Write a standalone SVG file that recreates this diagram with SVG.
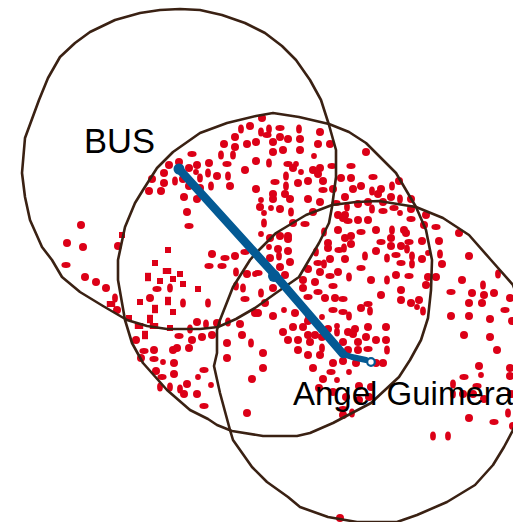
<svg xmlns="http://www.w3.org/2000/svg" width="513" height="522" viewBox="0 0 513 522">
<style>
.r{fill:none;stroke:#3a2113;stroke-width:2.6;stroke-linejoin:round}
.t{font-family:"Liberation Sans",Arial,sans-serif;font-size:33px;fill:#000}
#dots use{fill:#dc0017}
</style>
<defs>
<circle id="c" r="4"/>
<ellipse id="w" rx="4.6" ry="2.9"/>
<ellipse id="n" rx="2.9" ry="4.6"/>
<circle id="s" r="2.9"/>
<rect id="q" x="-3" y="-3" width="6" height="6"/>
<rect id="h" x="-3" y="-4.2" width="6" height="8.4"/>
<rect id="v" x="-4.2" y="-3" width="8.4" height="6"/>
</defs>
<rect width="513" height="522" fill="#fff"/>
<g id="dots">
<use href="#c" x="250" y="126"/><use href="#n" x="241" y="129"/><use href="#c" x="235" y="137"/><use href="#c" x="224" y="144"/><use href="#c" x="235" y="147"/><use href="#c" x="247" y="144"/><use href="#c" x="256" y="142"/><use href="#n" x="221" y="155"/><use href="#n" x="233" y="155"/><use href="#w" x="192" y="154"/><use href="#c" x="169" y="165"/><use href="#c" x="179" y="162"/><use href="#c" x="197" y="165"/><use href="#c" x="189" y="168"/><use href="#c" x="209" y="163"/><use href="#w" x="227" y="164"/><use href="#c" x="256" y="161"/><use href="#c" x="164" y="173"/><use href="#s" x="196" y="172"/><use href="#n" x="208" y="173"/><use href="#c" x="217" y="176"/><use href="#n" x="228" y="176"/><use href="#c" x="245" y="170"/><use href="#n" x="200" y="178"/><use href="#c" x="152" y="179"/><use href="#n" x="175" y="181"/><use href="#c" x="164" y="183"/><use href="#c" x="183" y="179"/><use href="#n" x="211" y="186"/><use href="#c" x="230" y="186"/><use href="#c" x="189" y="186"/><use href="#c" x="200" y="188"/><use href="#c" x="149" y="191"/><use href="#c" x="161" y="191"/><use href="#c" x="184" y="197"/><use href="#c" x="197" y="199"/><use href="#c" x="187" y="212"/><use href="#w" x="189" y="226"/><use href="#c" x="212" y="254"/><use href="#w" x="225" y="258"/><use href="#c" x="235" y="256"/><use href="#w" x="245" y="252"/>
<use href="#q" x="168" y="250"/><use href="#q" x="122" y="235"/><use href="#c" x="118" y="246"/><use href="#c" x="81" y="225"/><use href="#c" x="67" y="243"/><use href="#c" x="83" y="247"/>
<use href="#c" x="262" y="118"/><use href="#n" x="261" y="132"/><use href="#n" x="269" y="129"/><use href="#w" x="280" y="128"/><use href="#n" x="299" y="129"/><use href="#c" x="320" y="132"/><use href="#w" x="267" y="135"/><use href="#c" x="280" y="137"/><use href="#c" x="288" y="139"/><use href="#c" x="300" y="139"/><use href="#c" x="273" y="142"/><use href="#c" x="318" y="144"/><use href="#c" x="330" y="144"/><use href="#c" x="273" y="152"/><use href="#c" x="283" y="150"/><use href="#c" x="300" y="150"/><use href="#s" x="314" y="156"/><use href="#c" x="366" y="152"/><use href="#n" x="269" y="163"/><use href="#w" x="288" y="164"/><use href="#s" x="296" y="164"/><use href="#c" x="293" y="168"/><use href="#c" x="320" y="168"/><use href="#w" x="332" y="166"/><use href="#w" x="351" y="166"/><use href="#s" x="301" y="172"/><use href="#c" x="313" y="170"/><use href="#c" x="318" y="174"/><use href="#n" x="286" y="176"/><use href="#c" x="341" y="178"/><use href="#c" x="351" y="178"/><use href="#w" x="373" y="177"/><use href="#c" x="399" y="181"/><use href="#w" x="275" y="182"/><use href="#c" x="308" y="181"/><use href="#c" x="298" y="183"/><use href="#c" x="323" y="181"/><use href="#n" x="286" y="186"/><use href="#c" x="256" y="189"/><use href="#c" x="361" y="186"/><use href="#c" x="353" y="189"/><use href="#c" x="333" y="189"/><use href="#w" x="323" y="190"/><use href="#c" x="381" y="189"/><use href="#n" x="392" y="186"/><use href="#n" x="372" y="191"/><use href="#c" x="378" y="194"/><use href="#c" x="273" y="194"/><use href="#c" x="285" y="194"/><use href="#c" x="345" y="197"/><use href="#c" x="391" y="197"/><use href="#c" x="273" y="199"/><use href="#c" x="290" y="199"/><use href="#c" x="308" y="199"/><use href="#c" x="320" y="202"/><use href="#s" x="261" y="200"/><use href="#n" x="400" y="199"/><use href="#c" x="411" y="199"/><use href="#w" x="336" y="203"/><use href="#c" x="368" y="202"/><use href="#c" x="383" y="202"/><use href="#c" x="358" y="204"/><use href="#c" x="260" y="207"/><use href="#s" x="271" y="208"/><use href="#c" x="280" y="209"/><use href="#n" x="347" y="207"/><use href="#n" x="372" y="209"/><use href="#w" x="394" y="208"/><use href="#c" x="411" y="209"/><use href="#w" x="383" y="211"/><use href="#s" x="400" y="213"/><use href="#s" x="264" y="213"/><use href="#n" x="291" y="212"/><use href="#c" x="313" y="212"/><use href="#c" x="338" y="215"/><use href="#c" x="345" y="215"/><use href="#c" x="426" y="215"/><use href="#w" x="411" y="219"/><use href="#c" x="343" y="218"/><use href="#w" x="348" y="221"/><use href="#c" x="358" y="220"/><use href="#c" x="368" y="220"/><use href="#n" x="264" y="223"/><use href="#c" x="293" y="223"/><use href="#w" x="305" y="224"/><use href="#c" x="424" y="225"/><use href="#w" x="436" y="227"/><use href="#c" x="338" y="230"/><use href="#c" x="376" y="230"/><use href="#n" x="392" y="230"/><use href="#c" x="404" y="230"/><use href="#c" x="406" y="233"/><use href="#w" x="361" y="232"/><use href="#n" x="324" y="232"/><use href="#c" x="459" y="233"/><use href="#s" x="261" y="234"/><use href="#c" x="280" y="236"/><use href="#c" x="288" y="236"/><use href="#c" x="270" y="238"/><use href="#c" x="288" y="239"/><use href="#c" x="345" y="238"/><use href="#c" x="351" y="236"/><use href="#c" x="391" y="238"/><use href="#c" x="422" y="241"/><use href="#c" x="439" y="241"/><use href="#w" x="381" y="242"/><use href="#w" x="409" y="242"/><use href="#c" x="328" y="243"/><use href="#c" x="351" y="244"/><use href="#s" x="269" y="247"/><use href="#c" x="328" y="248"/><use href="#c" x="278" y="249"/><use href="#n" x="344" y="248"/><use href="#w" x="339" y="250"/><use href="#c" x="391" y="246"/><use href="#c" x="401" y="246"/><use href="#n" x="407" y="249"/><use href="#c" x="288" y="251"/><use href="#n" x="316" y="252"/><use href="#c" x="376" y="251"/><use href="#s" x="428" y="253"/><use href="#n" x="440" y="254"/><use href="#w" x="396" y="255"/><use href="#c" x="469" y="256"/><use href="#c" x="270" y="258"/><use href="#n" x="279" y="256"/><use href="#n" x="365" y="256"/><use href="#n" x="387" y="258"/><use href="#n" x="412" y="256"/><use href="#c" x="330" y="259"/><use href="#c" x="345" y="259"/><use href="#c" x="422" y="259"/>
<use href="#q" x="155" y="263"/><use href="#h" x="148" y="277"/><use href="#v" x="167" y="271"/><use href="#q" x="173" y="279"/><use href="#q" x="180" y="274"/><use href="#q" x="160" y="281"/><use href="#q" x="183" y="284"/><use href="#w" x="157" y="289"/><use href="#n" x="170" y="288"/><use href="#q" x="198" y="289"/><use href="#c" x="150" y="298"/><use href="#q" x="140" y="302"/><use href="#h" x="168" y="301"/><use href="#h" x="155" y="309"/><use href="#q" x="173" y="312"/><use href="#n" x="183" y="303"/><use href="#n" x="208" y="303"/><use href="#h" x="150" y="319"/><use href="#q" x="129" y="318"/><use href="#v" x="139" y="326"/><use href="#v" x="154" y="326"/><use href="#q" x="170" y="328"/><use href="#h" x="145" y="335"/>
<use href="#w" x="66" y="265"/><use href="#c" x="85" y="277"/><use href="#c" x="96" y="282"/><use href="#c" x="106" y="288"/><use href="#n" x="115" y="298"/><use href="#v" x="111" y="304"/><use href="#c" x="117" y="310"/>
<use href="#w" x="209" y="266"/><use href="#w" x="222" y="266"/><use href="#n" x="236" y="272"/><use href="#c" x="247" y="274"/><use href="#s" x="255" y="274"/><use href="#n" x="236" y="286"/><use href="#n" x="243" y="288"/><use href="#w" x="245" y="299"/><use href="#c" x="197" y="322"/><use href="#n" x="206" y="324"/><use href="#c" x="217" y="323"/><use href="#n" x="228" y="322"/><use href="#c" x="240" y="324"/><use href="#c" x="255" y="313"/><use href="#n" x="190" y="329"/><use href="#w" x="179" y="336"/><use href="#c" x="192" y="340"/><use href="#c" x="202" y="337"/><use href="#c" x="212" y="335"/><use href="#c" x="242" y="335"/><use href="#c" x="227" y="343"/><use href="#n" x="251" y="343"/><use href="#c" x="136" y="340"/><use href="#c" x="189" y="348"/><use href="#c" x="177" y="348"/><use href="#c" x="173" y="350"/><use href="#c" x="154" y="350"/><use href="#w" x="144" y="351"/><use href="#c" x="141" y="358"/><use href="#w" x="154" y="359"/><use href="#s" x="163" y="362"/><use href="#c" x="174" y="363"/><use href="#c" x="227" y="358"/><use href="#w" x="204" y="370"/><use href="#c" x="156" y="371"/><use href="#c" x="174" y="374"/><use href="#w" x="162" y="377"/><use href="#s" x="198" y="377"/><use href="#c" x="252" y="379"/><use href="#c" x="187" y="384"/><use href="#s" x="211" y="385"/><use href="#n" x="160" y="387"/><use href="#n" x="170" y="387"/><use href="#n" x="180" y="389"/><use href="#c" x="184" y="394"/><use href="#c" x="197" y="394"/><use href="#w" x="204" y="406"/><use href="#c" x="247" y="413"/>
<use href="#c" x="290" y="262"/><use href="#c" x="280" y="267"/><use href="#c" x="308" y="269"/><use href="#w" x="318" y="263"/><use href="#n" x="324" y="264"/><use href="#c" x="320" y="272"/><use href="#c" x="338" y="272"/><use href="#w" x="330" y="276"/><use href="#w" x="361" y="268"/><use href="#n" x="349" y="277"/><use href="#c" x="371" y="280"/><use href="#n" x="387" y="280"/><use href="#c" x="396" y="275"/><use href="#w" x="409" y="276"/><use href="#w" x="401" y="263"/><use href="#n" x="412" y="264"/><use href="#c" x="442" y="264"/><use href="#c" x="428" y="277"/><use href="#c" x="436" y="277"/><use href="#c" x="462" y="280"/><use href="#n" x="498" y="274"/><use href="#w" x="258" y="273"/><use href="#c" x="285" y="275"/><use href="#c" x="303" y="280"/><use href="#c" x="315" y="282"/><use href="#c" x="426" y="285"/><use href="#c" x="273" y="288"/><use href="#c" x="303" y="288"/><use href="#w" x="333" y="286"/><use href="#c" x="401" y="290"/><use href="#w" x="451" y="292"/><use href="#n" x="483" y="285"/><use href="#c" x="472" y="293"/><use href="#c" x="484" y="295"/><use href="#c" x="494" y="293"/><use href="#n" x="261" y="293"/><use href="#w" x="318" y="292"/><use href="#w" x="308" y="297"/><use href="#c" x="325" y="298"/><use href="#c" x="335" y="298"/><use href="#w" x="343" y="299"/><use href="#c" x="381" y="295"/><use href="#c" x="510" y="298"/><use href="#c" x="401" y="300"/><use href="#c" x="411" y="303"/><use href="#c" x="419" y="300"/><use href="#c" x="469" y="303"/><use href="#c" x="482" y="303"/><use href="#c" x="265" y="303"/><use href="#w" x="368" y="304"/><use href="#s" x="417" y="307"/><use href="#c" x="361" y="308"/><use href="#n" x="370" y="311"/><use href="#w" x="333" y="310"/><use href="#w" x="343" y="312"/><use href="#n" x="423" y="311"/><use href="#w" x="505" y="310"/><use href="#s" x="284" y="310"/><use href="#c" x="258" y="313"/><use href="#c" x="273" y="316"/><use href="#c" x="295" y="313"/><use href="#c" x="309" y="316"/><use href="#s" x="322" y="317"/><use href="#n" x="349" y="316"/><use href="#c" x="451" y="316"/><use href="#c" x="469" y="316"/><use href="#c" x="490" y="319"/><use href="#c" x="512" y="321"/><use href="#c" x="308" y="321"/><use href="#c" x="293" y="327"/><use href="#c" x="303" y="327"/><use href="#s" x="337" y="326"/><use href="#c" x="368" y="327"/><use href="#c" x="386" y="327"/><use href="#c" x="283" y="332"/><use href="#c" x="328" y="329"/><use href="#n" x="337" y="332"/><use href="#c" x="348" y="332"/><use href="#c" x="355" y="329"/><use href="#c" x="353" y="334"/><use href="#c" x="308" y="335"/><use href="#c" x="315" y="335"/><use href="#c" x="464" y="335"/><use href="#c" x="288" y="340"/><use href="#c" x="298" y="340"/><use href="#c" x="322" y="337"/><use href="#c" x="366" y="337"/><use href="#c" x="376" y="340"/><use href="#c" x="386" y="340"/><use href="#c" x="490" y="337"/><use href="#c" x="310" y="342"/><use href="#c" x="343" y="342"/><use href="#c" x="358" y="342"/><use href="#n" x="322" y="348"/><use href="#c" x="298" y="350"/><use href="#c" x="348" y="350"/><use href="#c" x="358" y="350"/><use href="#w" x="368" y="349"/><use href="#n" x="387" y="350"/><use href="#c" x="497" y="350"/><use href="#c" x="263" y="353"/><use href="#c" x="308" y="355"/><use href="#c" x="320" y="355"/><use href="#c" x="356" y="363"/><use href="#c" x="333" y="363"/><use href="#c" x="343" y="361"/><use href="#c" x="376" y="363"/><use href="#c" x="383" y="363"/><use href="#c" x="479" y="366"/><use href="#c" x="510" y="368"/><use href="#c" x="263" y="368"/><use href="#c" x="313" y="368"/><use href="#w" x="331" y="372"/><use href="#s" x="349" y="372"/><use href="#s" x="481" y="375"/><use href="#w" x="464" y="377"/><use href="#c" x="510" y="376"/><use href="#c" x="323" y="379"/><use href="#s" x="337" y="380"/><use href="#n" x="453" y="384"/><use href="#w" x="477" y="386"/><use href="#c" x="371" y="387"/><use href="#c" x="359" y="386"/><use href="#c" x="319" y="388"/><use href="#c" x="333" y="392"/><use href="#n" x="453" y="394"/><use href="#c" x="463" y="394"/><use href="#c" x="473" y="394"/><use href="#c" x="484" y="399"/><use href="#c" x="511" y="394"/><use href="#c" x="346" y="397"/><use href="#c" x="359" y="400"/><use href="#c" x="369" y="397"/><use href="#w" x="343" y="409"/><use href="#c" x="343" y="415"/><use href="#n" x="352" y="413"/><use href="#c" x="469" y="418"/><use href="#w" x="494" y="422"/><use href="#n" x="508" y="413"/><use href="#c" x="513" y="426"/><use href="#n" x="433" y="436"/><use href="#n" x="448" y="436"/><use href="#c" x="340" y="518"/>
</g>
<g id="zones">
<polygon id="zone-bus" class="r" points="180,9 200,10 222,15 245,23 265,33 282,46 296,60 310,80 321,100 329,125 336,150 336,177 332,207 329,223 319,243 309,260 299,277 276,293 255,308 236,319 218,327 200,329 167,329 147,326 127,320 103,306 80,292 62,277 52,260 42,247 30,220 25,197 22,173 25,138 39,100 48,78 60,57 75,43 90,32 115,20 140,13 160,10"/>
<polygon id="zone-middle" class="r" points="273,113 299,117 329,124 349,132 366,143 381,158 396,173 416,207 426,230 432,260 431,290 428,318 421,340 410,360 399,377 371,403 333,423 310,433 297,436 263,436 232,431 217,425 208,419 190,410 167,390 143,363 132,343 125,320 118,280 118,260 125,227 135,203 143,190 157,168 173,152 200,133 227,123 256,116"/>
<polygon id="zone-angel" class="r" points="379,201 416,207 443,218 469,235 491,260 513,285 540,360 513,430 504,447 493,465 475,485 447,502 417,515 397,522 357,522 328,517 300,507 288,497 267,482 252,467 233,440 230,430 220,393 214,366 217,353 217,330 220,320 233,287 250,260 256,253 276,233 306,215 332,205 356,202"/>
</g>
<g id="connectors" fill="none" stroke="#045a94" stroke-linecap="round" stroke-linejoin="round">
<polyline points="179,169 275,275 343,354" stroke-width="8.5"/>
<polyline points="343,354 352,357 366,360" stroke-width="6"/>
<circle cx="179" cy="169" r="5.5" fill="#045a94" stroke="none"/>
<circle cx="274" cy="276" r="6" fill="#045a94" stroke="none"/>
<circle cx="371" cy="362" r="3.8" fill="#fff" stroke-width="2.2"/>
</g>
<g id="labels">
<text class="t" x="84" y="153" style="font-size:34.5px">BUS</text>
<text class="t" x="293" y="405">Angel Guimera</text>
</g>
</svg>
